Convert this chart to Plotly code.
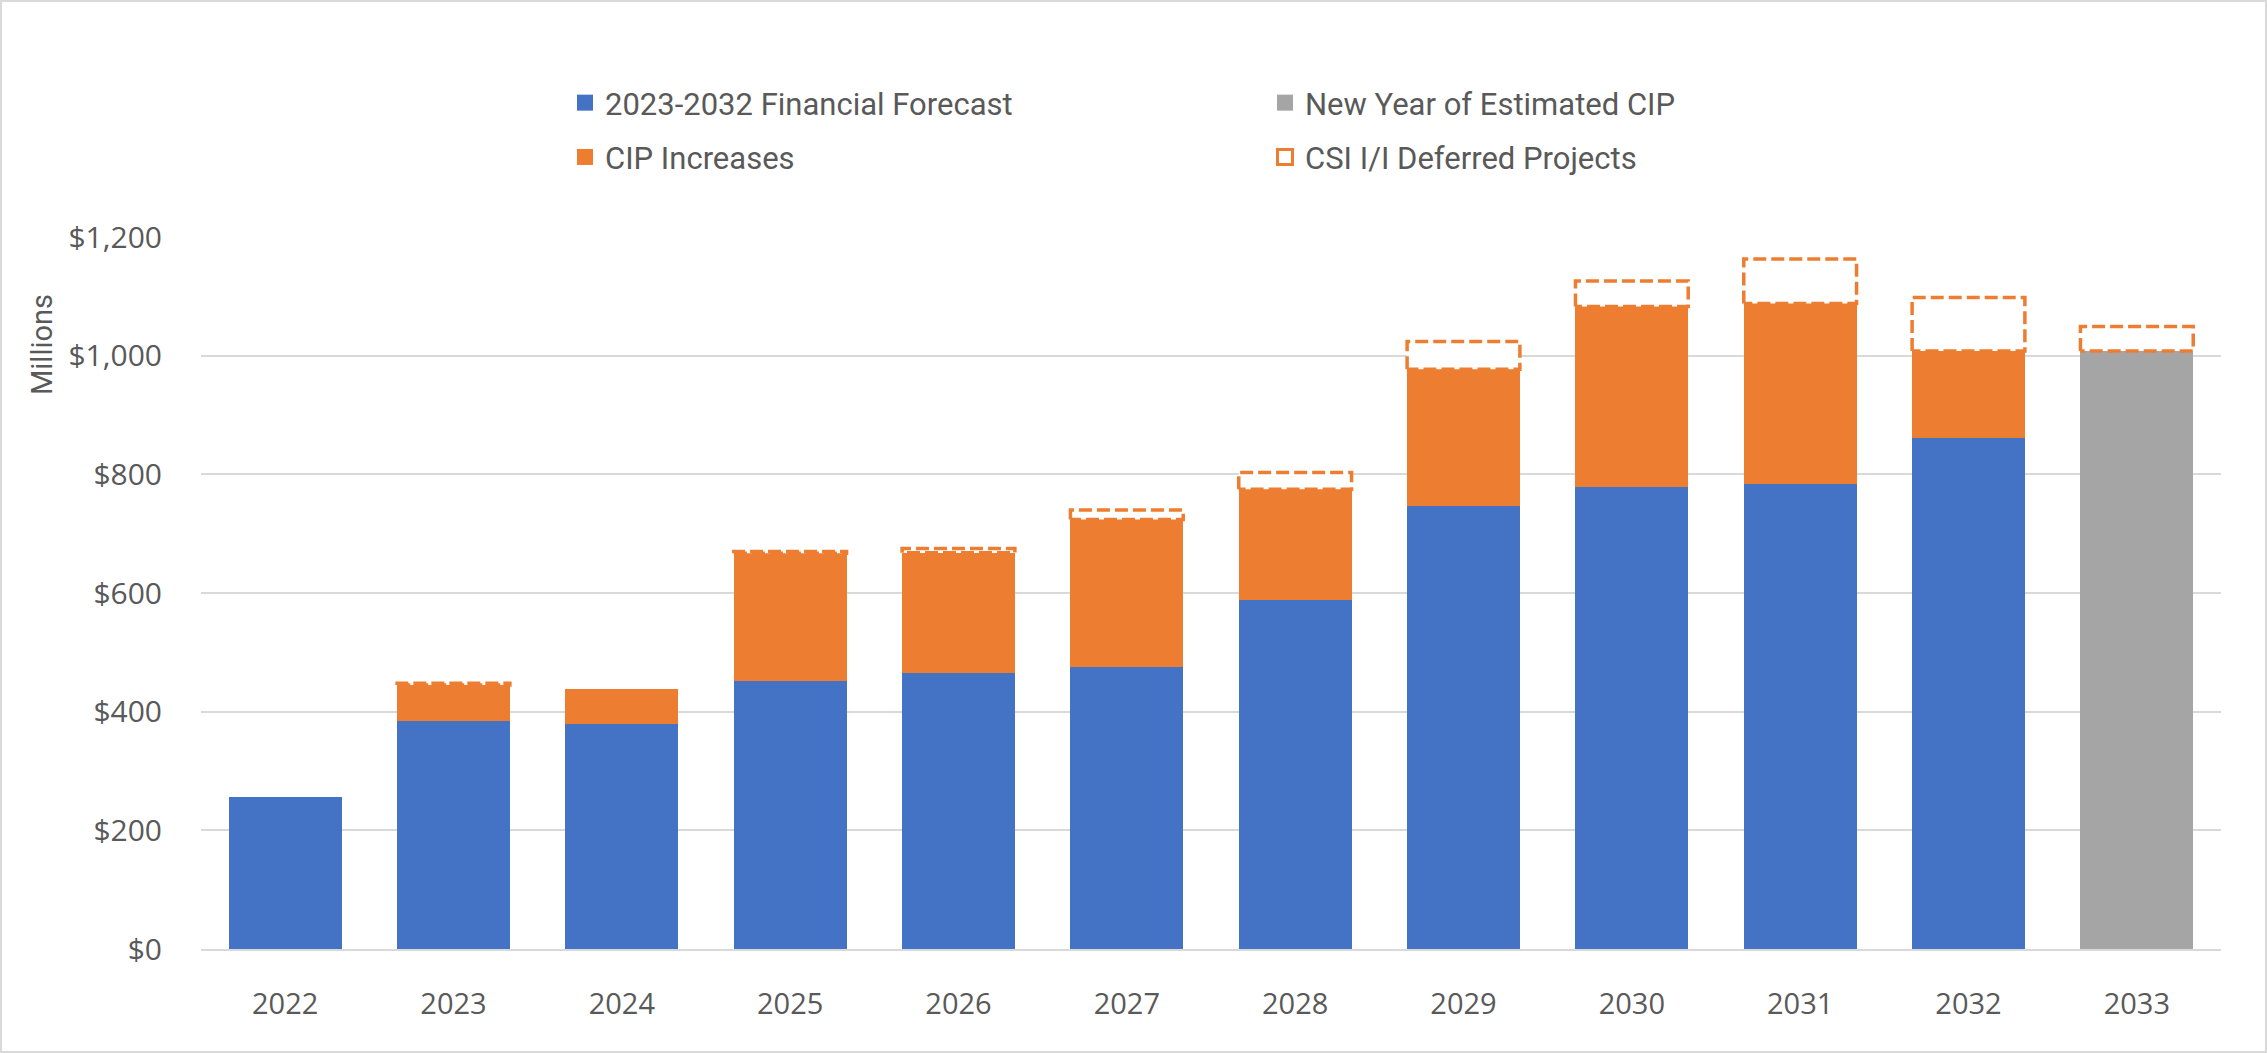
import plotly.graph_objects as go

years = [2022, 2023, 2024, 2025, 2026, 2027, 2028, 2029, 2030, 2031, 2032, 2033]
forecast = [257, 385, 379, 451, 465, 476, 588, 747, 779, 784, 861, None]
cip_increase = [None, 60, 60, 216, 203, 248, 187, 230, 304, 304, 147, None]
new_year = [None, None, None, None, None, None, None, None, None, None, None, 1008]
deferred = [0, 3, 0, 3, 7, 16, 28, 47, 43, 75, 90, 41]

y_ticks = [0, 200, 400, 600, 800, 1000, 1200]

BLUE = "#4472C4"
ORANGE = "#ED7D31"
GRAY = "#A5A5A5"
TXT = "#595959"
GRID = "#D9D9D9"
BAR_W = 0.67

W, H = 2267, 1053
ML, MR, MT, MB = 201, 46, 237, 104
PW, PH = W - ML - MR, H - MT - MB

fig = go.Figure()
fig.add_trace(go.Bar(x=years, y=forecast, marker=dict(color=BLUE, line=dict(width=0)),
                     width=BAR_W, showlegend=False, name="2023-2032 Financial Forecast"))
fig.add_trace(go.Bar(x=years, y=cip_increase, marker=dict(color=ORANGE, line=dict(width=0)),
                     width=BAR_W, showlegend=False, name="CIP Increases"))
fig.add_trace(go.Bar(x=years, y=new_year, marker=dict(color=GRAY, line=dict(width=0)),
                     width=BAR_W, showlegend=False, name="New Year of Estimated CIP"))

# dashed deferred boxes stacked on top of each bar
rx, ry = [], []
for i, yr in enumerate(years):
    if not deferred[i]:
        continue
    base = (forecast[i] or 0) + (cip_increase[i] or 0) + (new_year[i] or 0)
    top = base + deferred[i]
    x0, x1 = yr - BAR_W / 2, yr + BAR_W / 2
    rx += [x0, x0, x1, x1, x0, None]
    ry += [base, top, top, base, base, None]
fig.add_trace(go.Scatter(x=rx, y=ry, mode="lines", fill="toself", fillcolor="white",
                         line=dict(color=ORANGE, width=3.5, dash="13px,5px"),
                         showlegend=False, hoverinfo="skip", name="CSI I/I Deferred Projects"))

# legend entries
def leg(name, color, legend, group, symbol="square", open_=False):
    fig.add_trace(go.Scatter(
        x=[None], y=[None], mode="markers", name=name, legend=legend, legendgroup=group,
        marker=dict(symbol=symbol, size=17 if not open_ else 15, color=color,
                    line=dict(color=color, width=3 if open_ else 0)),
    ))

leg("2023-2032 Financial Forecast", BLUE, "legend", "a")
leg("CIP Increases", ORANGE, "legend", "b")
leg("New Year of Estimated CIP", GRAY, "legend2", "c")
leg("CSI I/I Deferred Projects", ORANGE, "legend2", "d", symbol="square-open", open_=True)

legfont = dict(family="Roboto, sans-serif", size=31, color=TXT)
fig.update_layout(
    width=W, height=H,
    margin=dict(l=ML, r=MR, t=MT, b=MB, autoexpand=False),
    paper_bgcolor="white", plot_bgcolor="white",
    barmode="stack",
    legend=dict(xref="container", yref="container", x=565 / W, y=1 - 76 / H,
                xanchor="left", yanchor="top", orientation="v", tracegroupgap=11,
                font=legfont, bgcolor="rgba(0,0,0,0)", itemsizing="trace"),
    legend2=dict(xref="container", yref="container", x=1265 / W, y=1 - 76 / H,
                 xanchor="left", yanchor="top", orientation="v", tracegroupgap=11,
                 font=legfont, bgcolor="rgba(0,0,0,0)", itemsizing="trace"),
    xaxis=dict(range=[years[0] - 0.5, years[-1] + 0.5], tickmode="array", tickvals=years,
               ticktext=[str(y) for y in years], showgrid=False, showline=True,
               linecolor=GRID, linewidth=2, ticks="", ticklabelstandoff=28,
               tickfont=dict(family="Open Sans, sans-serif", size=29, color=TXT),
               zeroline=False, fixedrange=True, automargin=False),
    yaxis=dict(range=[0, 1200], tickmode="array", tickvals=y_ticks,
               ticktext=[f"${v:,}" for v in y_ticks], showgrid=True, gridcolor=GRID,
               gridwidth=2, zeroline=False, showline=False, ticks="",
               ticklabelstandoff=38, automargin=False,
               tickfont=dict(family="Open Sans, sans-serif", size=30, color=TXT)),
    annotations=[dict(text="Millions", textangle=-90, xref="paper", yref="paper",
                      x=(42 - ML) / PW, y=1 - (345 - MT) / PH, xanchor="center", yanchor="middle",
                      showarrow=False, font=dict(family="Roboto, sans-serif", size=29, color=TXT))],
    shapes=[dict(type="rect", xref="paper", yref="paper",
                 x0=(1 - ML) / PW, x1=(W - 1 - ML) / PW,
                 y0=-(MB - 1) / PH, y1=1 + (MT - 1) / PH,
                 line=dict(color=GRID, width=2), fillcolor="rgba(0,0,0,0)", layer="below")],
)

fig.write_html("out.html", config={"displayModeBar": False},
               post_script="document.body.style.margin='0';document.body.style.overflow='hidden';")
